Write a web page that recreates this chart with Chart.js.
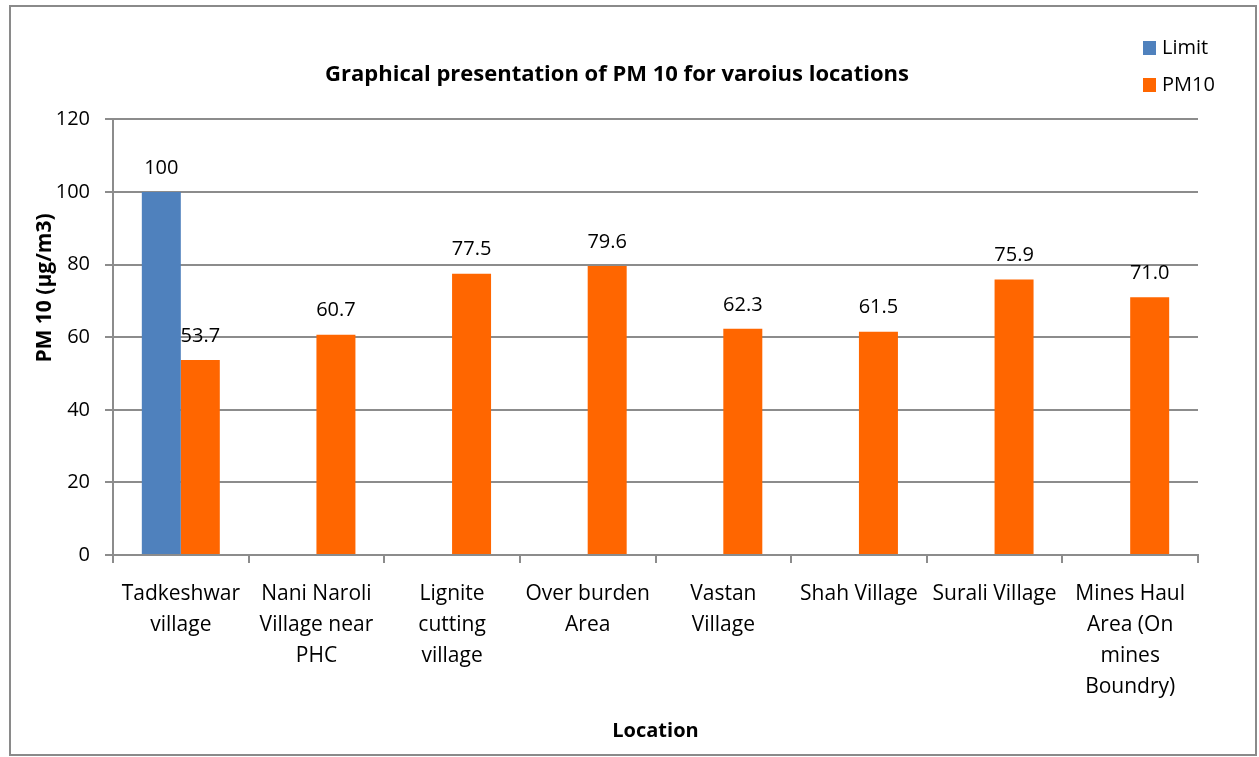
<!DOCTYPE html>
<html>
<head>
<meta charset="utf-8">
<script src="https://cdn.jsdelivr.net/npm/chart.js@4.4.1/dist/chart.umd.min.js"></script>
<style>
  html, body { margin: 0; padding: 0; background: #fff; }
  #wrap { width: 1259px; height: 757px; position: relative; }
</style>
</head>
<body>
<div id="wrap"><canvas id="chart"></canvas></div>
<script>
// data
const categories = [
  ["Tadkeshwar", "village"],
  ["Nani Naroli", "Village near", "PHC"],
  ["Lignite", "cutting", "village"],
  ["Over burden", "Area"],
  ["Vastan", "Village"],
  ["Shah Village"],
  ["Surali Village"],
  ["Mines Haul", "Area (On", "mines", "Boundry)"]
];
const limitValues = [100, null, null, null, null, null, null, null];
const pm10Values = [53.7, 60.7, 77.5, 79.6, 62.3, 61.5, 75.9, 71.0];
const yTicks = { min: 0, max: 120, step: 20 };
const yTitle = "PM 10 (µg/m3)";

const FONT = "'Open Sans', 'Liberation Sans', sans-serif";
const GRID = "#8c8c8c";

// outer frame round the whole chart
const framePlugin = {
  id: "frame",
  beforeDraw(chart) {
    const ctx = chart.ctx;
    ctx.save();
    ctx.fillStyle = "#fff";
    ctx.fillRect(0, 0, chart.width, chart.height);
    ctx.strokeStyle = "#8a8a8a";
    ctx.lineWidth = 2;
    ctx.strokeRect(10, 6, 1246, 749);
    ctx.restore();
  }
};

// value labels above each bar
const valueLabels = {
  id: "valueLabels",
  afterDatasetsDraw(chart) {
    const ctx = chart.ctx;
    ctx.save();
    ctx.font = "20px " + FONT;
    ctx.fillStyle = "#000";
    ctx.textAlign = "center";
    ctx.textBaseline = "middle";
    chart.data.datasets.forEach((ds, i) => {
      chart.getDatasetMeta(i).data.forEach((bar, j) => {
        const v = ds.data[j];
        if (v == null) return;
        const txt = i === 0 ? String(v) : v.toFixed(1);
        ctx.fillText(txt, bar.x, bar.y - 24);
      });
    });
    ctx.restore();
  }
};

// legend stacked in the top right corner + the y title, which sits above centre
const extras = {
  id: "extras",
  afterDraw(chart) {
    const ctx = chart.ctx;
    ctx.save();
    ctx.font = "20px " + FONT;
    ctx.textBaseline = "middle";
    ctx.textAlign = "left";
    chart.data.datasets.forEach((ds, i) => {
      const y = 48 + i * 37;
      ctx.fillStyle = ds.backgroundColor;
      ctx.fillRect(1143, y - 7, 13, 14);
      ctx.fillStyle = "#000";
      ctx.fillText(ds.label, 1162, y);
    });

    ctx.translate(45, 288);
    ctx.rotate(-Math.PI / 2);
    ctx.textAlign = "center";
    ctx.font = "bold 21px " + FONT;
    ctx.fillText(yTitle, 0, 0);
    ctx.restore();
  }
};

new Chart(document.getElementById("chart"), {
  type: "bar",
  data: {
    labels: categories,
    datasets: [
      { label: "Limit", data: limitValues, backgroundColor: "#4f81bd" },
      { label: "PM10", data: pm10Values, backgroundColor: "#ff6600" }
    ]
  },
  options: {
    responsive: true,
    maintainAspectRatio: false,
    animation: false,
    layout: { padding: { left: 36, right: 61, top: 0, bottom: 12 } },
    datasets: { bar: { categoryPercentage: 0.575, barPercentage: 1 } },
    plugins: {
      legend: { display: false },
      tooltip: { enabled: false },
      title: {
        display: true,
        text: "Graphical presentation of PM 10 for varoius locations",
        color: "#000",
        font: { family: FONT, size: 22, weight: "bold", lineHeight: 1.2 },
        padding: { top: 62, bottom: 31 }
      }
    },
    scales: {
      x: {
        grid: { drawOnChartArea: false, color: GRID, lineWidth: 2, tickLength: 8, offset: true },
        border: { color: GRID, width: 2 },
        ticks: {
          color: "#000",
          font: { family: FONT, size: 21, lineHeight: 1.48 },
          padding: 15,
          maxRotation: 0,
          autoSkip: false
        },
        title: {
          display: true,
          text: "Location",
          color: "#000",
          font: { family: FONT, size: 20, weight: "bold", lineHeight: 1.2 },
          padding: { top: 0, bottom: 2 }
        },
        afterFit(scale) { scale.height = 190; }
      },
      y: {
        min: yTicks.min,
        max: yTicks.max,
        grid: { color: GRID, lineWidth: 2, tickLength: 8 },
        border: { color: GRID, width: 2 },
        ticks: {
          stepSize: yTicks.step,
          color: "#000",
          font: { family: FONT, size: 20 },
          padding: 15
        },
        afterFit(scale) { scale.width = 77; }
      }
    }
  },
  plugins: [framePlugin, valueLabels, extras]
});
</script>
</body>
</html>
